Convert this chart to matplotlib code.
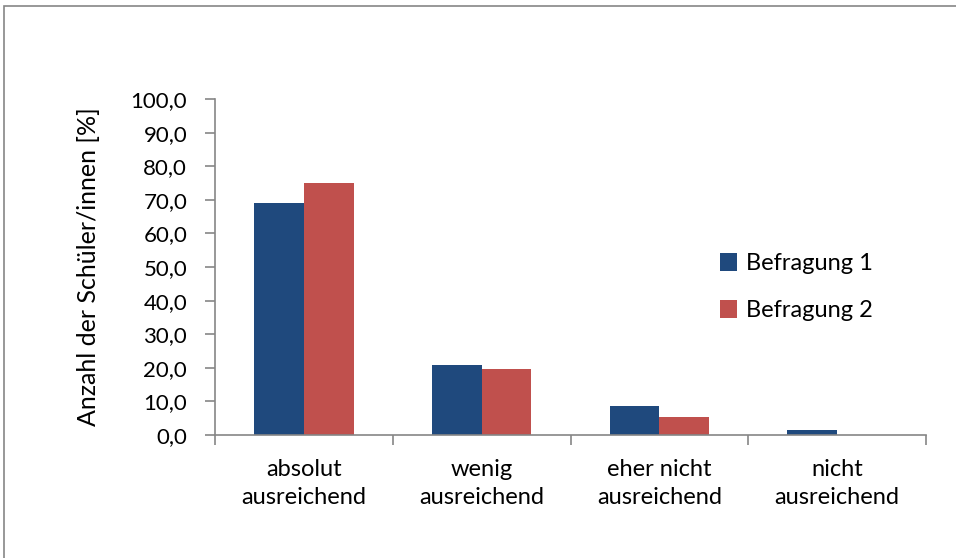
import matplotlib
matplotlib.use('Agg')
import matplotlib.pyplot as plt
from matplotlib.patches import Rectangle
import numpy as np

categories = ['absolut\nausreichend', 'wenig\nausreichend', 'eher nicht\nausreichend', 'nicht\nausreichend']
befragung1 = [69.1, 20.7, 8.5, 1.5]
befragung2 = [75.1, 19.6, 5.3, 0.0]
series_names = ['Befragung 1', 'Befragung 2']
colors = ['#1F497D', '#C0504D']

plt.rcParams['font.family'] = ['Lato', 'DejaVu Sans']

fig = plt.figure(figsize=(9.56, 5.58), dpi=100)
# chart frame around the whole area
fig.patches.append(Rectangle((4 / 956, -0.1), 1.1, 1 - 6 / 558 + 0.1,
                             transform=fig.transFigure, fill=False,
                             edgecolor='#868686', linewidth=1.2))

ax = fig.add_axes([215 / 956, 1 - 435 / 558, 711 / 956, 336 / 558])

x = np.arange(len(categories))
w = 0.28
ax.bar(x - w / 2, befragung1, w, color=colors[0], label=series_names[0])
ax.bar(x + w / 2, befragung2, w, color=colors[1], label=series_names[1])

ax.set_xlim(-0.5, len(categories) - 0.5)
ax.set_ylim(0, 100)
ax.set_yticks(np.arange(0, 101, 10))
ax.set_yticklabels([f'{v:.1f}'.replace('.', ',') for v in np.arange(0, 101, 10)], fontsize=16)

ax.set_xticks(x)
ax.set_xticklabels(categories, fontsize=17, linespacing=1.45)
ax.tick_params(axis='x', length=0, pad=17)
ax.set_xticks(np.arange(-0.5, len(categories)), minor=True)
ax.tick_params(axis='x', which='minor', length=7, color='#868686', width=1.2)
ax.tick_params(axis='y', length=7, color='#868686', width=1.2, pad=13)

for s in ['top', 'right']:
    ax.spines[s].set_visible(False)
for s in ['left', 'bottom']:
    ax.spines[s].set_color('#868686')
    ax.spines[s].set_linewidth(1.2)

ax.set_ylabel('Anzahl der Schüler/innen [%]', fontsize=18, labelpad=22)

ax.legend(loc='center left', bbox_to_anchor=(0.68, 0.44), frameon=False,
          fontsize=17, handlelength=0.75, handleheight=0.75, labelspacing=1.1,
          handletextpad=0.35)

fig.savefig('out.png', dpi=100)
